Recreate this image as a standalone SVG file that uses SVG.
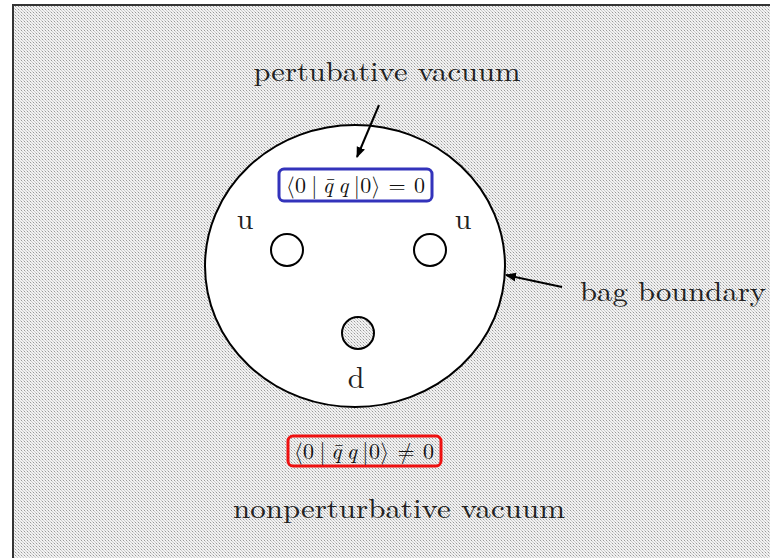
<svg xmlns="http://www.w3.org/2000/svg" width="770" height="558" viewBox="0 0 770 558">
<defs>
<pattern id="dots" width="3" height="3" patternUnits="userSpaceOnUse">
<rect width="3" height="3" fill="#f2f2f2"/>
<rect x="0" y="0" width="1" height="1" fill="#999"/>
<rect x="1" y="1" width="1" height="1" fill="#cccccc"/>
<rect x="2" y="2" width="1" height="1" fill="#cccccc"/>
</pattern>
<marker id="ah" viewBox="0 0 10 10" refX="9" refY="5" markerWidth="11" markerHeight="11" markerUnits="userSpaceOnUse" orient="auto">
<path d="M0,1 L10,5 L0,9 Z" fill="#000"/>
</marker>
<style>
.lbl{font-family:"Latin Modern Roman","CMU Serif","Liberation Serif",serif;fill:#222}
.math{font-family:"Latin Modern Roman","Latin Modern Math","CMU Serif","Liberation Serif",serif;fill:#111;font-size:22px}
.it{font-style:italic}
.q{fill:none;stroke:#000;stroke-width:2}
</style>
</defs>
<rect x="0" y="0" width="770" height="558" fill="#ffffff"/>
<rect id="frame" x="13" y="5" width="770" height="570" fill="url(#dots)" stroke="#333" stroke-width="2"/>

<g id="bag">
<ellipse cx="355" cy="266" rx="150" ry="141" fill="#ffffff" stroke="#000" stroke-width="2"/>
</g>

<g id="pert-box">
<rect x="279" y="169" width="153" height="32" rx="5" fill="#fff" stroke="#3333bb" stroke-width="3"/>
<text class="math" x="286" y="193" textLength="139" lengthAdjust="spacing">⟨0&#8201;|&#8201;<tspan class="it">q&#772;&#8201;q</tspan>&#8201;|0⟩ = 0</text>
</g>

<g id="nonpert-box">
<rect x="288" y="436" width="153" height="30" rx="5" fill="url(#dots)" stroke="#ee1111" stroke-width="3"/>
<text class="math" x="294" y="459" textLength="140" lengthAdjust="spacing">⟨0&#8201;|&#8201;<tspan class="it">q&#772;&#8201;q</tspan>&#8201;|0⟩ ≠ 0</text>
</g>

<g id="quark-u1">
<circle class="q" cx="287" cy="250" r="16"/>
<text class="lbl" x="245" y="229" font-size="30" text-anchor="middle">u</text>
</g>
<g id="quark-u2">
<circle class="q" cx="430" cy="250" r="16"/>
<text class="lbl" x="463" y="229" font-size="30" text-anchor="middle">u</text>
</g>
<g id="quark-d">
<circle cx="358" cy="333" r="16" fill="url(#dots)" stroke="#000" stroke-width="2"/>
<text class="lbl" x="356" y="388" font-size="30" text-anchor="middle">d</text>
</g>

<g id="label-pert">
<text class="lbl" x="387" y="81" font-size="28" text-anchor="middle" textLength="267" lengthAdjust="spacingAndGlyphs">pertubative vacuum</text>
</g>
<g id="label-bag">
<text class="lbl" x="580" y="301" font-size="28" textLength="186" lengthAdjust="spacingAndGlyphs">bag boundary</text>
</g>
<g id="label-nonpert">
<text class="lbl" x="233" y="518" font-size="28" textLength="332" lengthAdjust="spacingAndGlyphs">nonperturbative vacuum</text>
</g>

<g id="connectors">
<line x1="379" y1="105" x2="357" y2="157" stroke="#000" stroke-width="2" marker-end="url(#ah)"/>
<line x1="562" y1="287" x2="506" y2="275" stroke="#000" stroke-width="2" marker-end="url(#ah)"/>
</g>
</svg>
